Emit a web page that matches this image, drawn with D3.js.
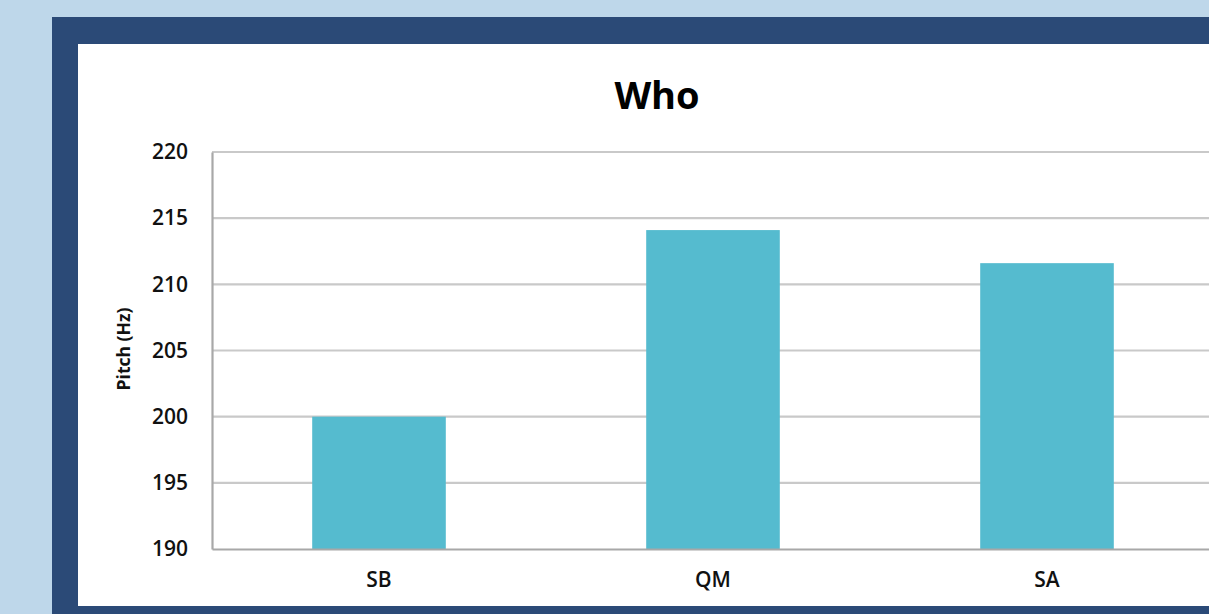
<!DOCTYPE html>
<html>
<head>
<meta charset="utf-8">
<script src="https://cdn.jsdelivr.net/npm/d3@7"></script>
<style>
  html, body { margin: 0; padding: 0; overflow: hidden; background: #bed7ea; }
  svg { display: block; }
</style>
</head>
<body>
<svg id="chart" width="1209" height="614"></svg>
<script>
const categories = ["SB", "QM", "SA"];
const values = [200.0, 214.1, 211.6];
const yTicks = [190, 195, 200, 205, 210, 215, 220];
const titleText = "Who";
const yLabel = "Pitch (Hz)";

const W = 1209, H = 614;
const svg = d3.select("#chart");

svg.append("rect").attr("x", 0).attr("y", 0).attr("width", W).attr("height", H).attr("fill", "#bed7ea");
svg.append("rect").attr("x", 52).attr("y", 17).attr("width", W - 52 + 10).attr("height", H - 17 + 10).attr("fill", "#2b4a77");
svg.append("rect").attr("x", 78).attr("y", 44).attr("width", W - 78 + 10).attr("height", 606 - 44).attr("fill", "#ffffff");

const plotLeft = 212, plotRight = 1214, plotTop = 152, plotBottom = 549;

const x = d3.scaleBand().domain(categories).range([plotLeft, plotRight]).paddingInner(0).paddingOuter(0);
const y = d3.scaleLinear().domain([190, 220]).range([plotBottom, plotTop]);

// gridlines
svg.append("g").selectAll("line").data(yTicks.filter(t => t > 190)).join("line")
  .attr("x1", plotLeft).attr("x2", W + 5)
  .attr("y1", d => y(d)).attr("y2", d => y(d))
  .attr("stroke", "#c9c9c9").attr("stroke-width", 2.2);

// bars
const barW = x.bandwidth() * 0.4;
svg.append("g").selectAll("rect").data(categories).join("rect")
  .attr("x", (d) => x(d) + x.bandwidth() / 2 - barW / 2)
  .attr("width", barW)
  .attr("y", (d, i) => y(values[i]))
  .attr("height", (d, i) => y(190) - y(values[i]))
  .attr("fill", "#55bbcf");

// axes
const yAxis = svg.append("g").attr("transform", `translate(${plotLeft},0)`)
  .call(d3.axisLeft(y).tickValues(yTicks).tickSize(0).tickPadding(24));
yAxis.select(".domain").attr("stroke", "#a8a8a8").attr("stroke-width", 2.2);
yAxis.selectAll("text").attr("font-family", "'Open Sans', sans-serif").attr("font-size", 21).attr("font-weight", 600).attr("fill", "#111");

const xAxis = svg.append("g").attr("transform", `translate(0,${plotBottom})`)
  .call(d3.axisBottom(x).tickSize(0).tickPadding(23));
xAxis.select(".domain").attr("stroke", "#a8a8a8").attr("stroke-width", 2.2);
xAxis.selectAll("text").attr("font-family", "'Open Sans', sans-serif").attr("font-size", 21).attr("font-weight", 600).attr("fill", "#111");

// title
svg.append("text").attr("x", 657).attr("y", 109).attr("text-anchor", "middle")
  .attr("font-family", "'Open Sans', sans-serif").attr("font-size", 38).attr("font-weight", 700).attr("fill", "#000")
  .text(titleText);

// y label
svg.append("text").attr("transform", "translate(130,349) rotate(-90)").attr("text-anchor", "middle")
  .attr("font-family", "'Open Sans', sans-serif").attr("font-size", 17.5).attr("font-weight", 700).attr("fill", "#111")
  .text(yLabel);
</script>
</body>
</html>
